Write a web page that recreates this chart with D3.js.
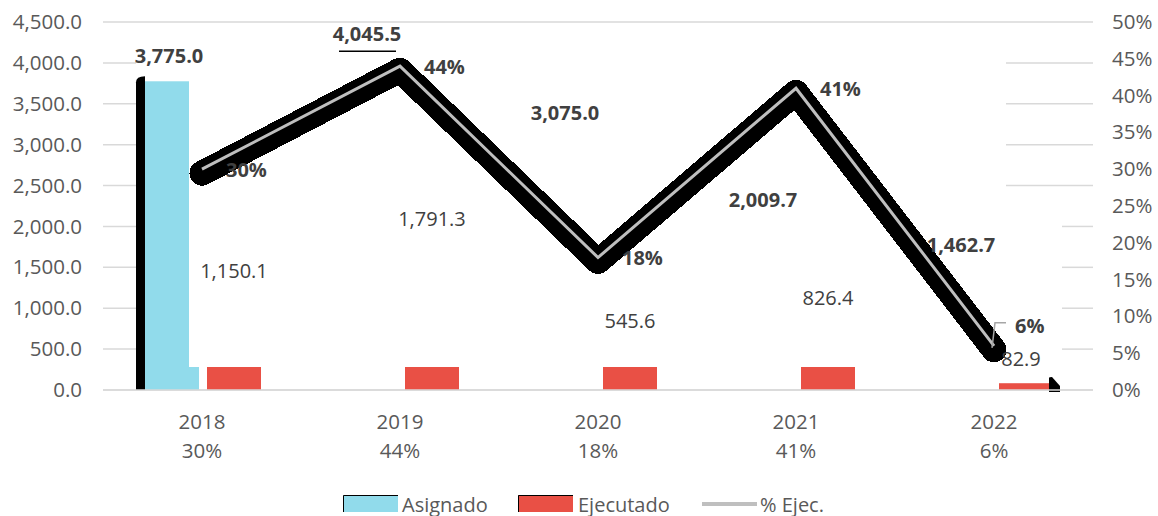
<!DOCTYPE html>
<html>
<head>
<meta charset="utf-8">
<script src="https://cdn.jsdelivr.net/npm/d3@7"></script>
<style>
  body { margin: 0; background: #fff; }
  text { font-family: "Open Sans", sans-serif; }
</style>
</head>
<body>
<div id="chart"></div>
<script>
const years = ["2018", "2019", "2020", "2021", "2022"];
const asignado = [3775.0, 4045.5, 3075.0, 2009.7, 1462.7];
const ejecutado = [1150.1, 1791.3, 545.6, 826.4, 82.9];
const pctEjec = [0.30, 0.44, 0.18, 0.41, 0.06];
const leftTicks = [0, 500, 1000, 1500, 2000, 2500, 3000, 3500, 4000, 4500];
const rightTicks = [0, 0.05, 0.10, 0.15, 0.20, 0.25, 0.30, 0.35, 0.40, 0.45, 0.50];
const seriesNames = ["Asignado", "Ejecutado", "% Ejec."];

let width = 1158,
  height = 516;

let svg = d3.select("#chart")
  .append("svg")
  .attr("width", width)
  .attr("height", height);

let x = d3.scaleBand()
  .domain(years)
  .range([103, 1093]);

let xSub = d3.scaleBand()
  .domain(["Asignado", "Ejecutado"])
  .range([-57, 59])
  .paddingInner(0.129);

let yL = d3.scaleLinear().domain([0, 4500]).range([390, 22]);
let yR = d3.scaleLinear().domain([0, 0.5]).range([390, 22]);

let cx = d => x(d) + x.bandwidth() / 2;

const grid = "#d9d9d9", axisText = "#595959", labelText = "#404040";
const blue = "#91dbeb", red = "#e95045";

// gridlines (the middle of the plot is blanked out in the original)
let gl = svg.append("g");
leftTicks.forEach(t => {
  let y = yL(t);
  if (t === 0 || t === 4500) {
    gl.append("line").attr("x1", 103).attr("x2", 1093).attr("y1", y).attr("y2", y)
      .attr("stroke", grid).attr("stroke-width", 1.5);
  } else {
    gl.append("line").attr("x1", 103).attr("x2", 136).attr("y1", y).attr("y2", y)
      .attr("stroke", grid).attr("stroke-width", 1.5);
    gl.append("line").attr("x1", y < 200 ? 1006 : 1062).attr("x2", 1093).attr("y1", y).attr("y2", y)
      .attr("stroke", grid).attr("stroke-width", 1.5);
  }
});

// axes
let axL = svg.append("g")
  .attr("transform", "translate(103,0)")
  .call(d3.axisLeft(yL).tickValues(leftTicks).tickFormat(d3.format(",.1f")).tickSize(0).tickPadding(21));
let axR = svg.append("g")
  .attr("transform", "translate(1093,0)")
  .call(d3.axisRight(yR).tickValues(rightTicks).tickFormat(d3.format(".0%")).tickSize(0).tickPadding(19));
[axL, axR].forEach(a => {
  a.select(".domain").remove();
  a.selectAll("text")
    .attr("fill", axisText)
    .style("font-size", "20.5px")
    .style("font-family", "'Open Sans', sans-serif");
});

let xl = svg.append("g");
years.forEach((yr, i) => {
  xl.append("text").attr("x", cx(yr)).attr("y", 421)
    .attr("text-anchor", "middle").attr("dominant-baseline", "central")
    .attr("fill", axisText).style("font-size", "20.5px").text(yr);
  xl.append("text").attr("x", cx(yr)).attr("y", 450)
    .attr("text-anchor", "middle").attr("dominant-baseline", "central")
    .attr("fill", axisText).style("font-size", "20.5px").text(d3.format(".0%")(pctEjec[i]));
});

// bars: only a strip near the base is rendered, as in the original
svg.append("clipPath").attr("id", "baseClip")
  .append("rect")
  .attr("x", 0).attr("width", width)
  .attr("y", yL(281)).attr("height", yL(0) - yL(281));

let bars = svg.append("g");

// black artifact left of first Asignado bar
let bx0 = cx(years[0]) + xSub("Asignado");
bars.append("path")
  .attr("d", `M${bx0 - 9},${yL(0)} V${yL(asignado[0]) + 1} Q${bx0 - 9},${yL(asignado[0]) - 5} ${bx0},${yL(asignado[0]) - 5} V${yL(0)} Z`)
  .attr("fill", "#000");

// first Asignado bar drawn in full (narrower), the rest hidden
bars.append("rect")
  .attr("x", bx0)
  .attr("y", yL(asignado[0]))
  .attr("width", xSub.bandwidth() - 10)
  .attr("height", yL(0) - yL(asignado[0]))
  .attr("fill", blue);

bars.append("g").attr("clip-path", "url(#baseClip)")
  .selectAll("rect")
  .data(asignado.slice(0, 1))
  .join("rect")
  .attr("x", (d, i) => cx(years[i]) + xSub("Asignado"))
  .attr("y", d => yL(d))
  .attr("width", xSub.bandwidth())
  .attr("height", d => yL(0) - yL(d))
  .attr("fill", blue);

bars.append("g").attr("clip-path", "url(#baseClip)")
  .selectAll("rect")
  .data(ejecutado)
  .join("rect")
  .attr("x", (d, i) => cx(years[i]) + xSub("Ejecutado"))
  .attr("y", d => yL(d))
  .attr("width", xSub.bandwidth())
  .attr("height", d => yL(0) - yL(d))
  .attr("fill", red);

// black artifact right of last Ejecutado bar
let bxe = cx(years[4]) + xSub("Ejecutado") + xSub.bandwidth() - 4;
bars.append("path")
  .attr("d", `M${bxe},${yL(0) + 2} V${yL(150)} Q${bxe},${yL(160)} ${bxe + 3},${yL(160)} L${bxe + 11},${yL(0) - 4} V${yL(0) + 2} Z`)
  .attr("fill", "#000");

// baseline over bars
svg.append("line").attr("x1", 103).attr("x2", 1093).attr("y1", yL(0)).attr("y2", yL(0))
  .attr("stroke", grid).attr("stroke-width", 1.5);

// % Ejec. line: thick black shadow slightly below, thin grey line on top
let linePts = years.map((yr, i) => [cx(yr), yR(pctEjec[i])]);
let line = d3.line();
svg.append("path")
  .attr("d", line(linePts))
  .attr("transform", "translate(0,4)")
  .attr("fill", "none")
  .attr("stroke", "#000")
  .attr("stroke-width", 25)
  .attr("stroke-linejoin", "round")
  .attr("stroke-linecap", "round")
  .attr("shape-rendering", "crispEdges");
svg.append("path")
  .attr("d", line(linePts))
  .attr("fill", "none")
  .attr("stroke", "#bfbfbf")
  .attr("stroke-width", 3);

// data labels
let lab = svg.append("g");
asignado.forEach((v, i) => {
  let lx = cx(years[i]) + xSub("Asignado") + xSub.bandwidth() / 2 - 3;
  let ly = yL(v) - 26;
  lab.append("text").attr("x", lx).attr("y", ly)
    .attr("text-anchor", "middle").attr("dominant-baseline", "central")
    .attr("fill", labelText).style("font-size", "20px").style("font-weight", "bold")
    .text(d3.format(",.1f")(v));
  if (i === 1) {
    lab.append("line").attr("x1", lx - 28).attr("x2", lx + 29)
      .attr("y1", ly + 18).attr("y2", ly + 18)
      .attr("stroke", "#000").attr("stroke-width", 1.5);
  }
});
ejecutado.forEach((v, i) => {
  let lx = cx(years[i]) + xSub("Ejecutado") + xSub.bandwidth() / 2 - (i === 4 ? 5 : 0);
  lab.append("text").attr("x", lx).attr("y", yL(v) - 25)
    .attr("text-anchor", "middle").attr("dominant-baseline", "central")
    .attr("fill", labelText).style("font-size", "20px")
    .text(d3.format(",.1f")(v));
});
pctEjec.forEach((p, i) => {
  let px = cx(years[i]), py = yR(p);
  let last = i === pctEjec.length - 1;
  if (last) {
    lab.append("polyline")
      .attr("points", `${px - 2},${py + 2} ${px + 1},${py - 23} ${px + 12},${py - 23}`)
      .attr("fill", "none").attr("stroke", "#a6a6a6").attr("stroke-width", 1.5);
  }
  lab.append("text")
    .attr("x", last ? px + 21 : px + 24)
    .attr("y", last ? py - 20 : py)
    .attr("dominant-baseline", "central")
    .attr("fill", labelText).style("font-size", "20px").style("font-weight", "bold")
    .text(d3.format(".0%")(p));
});

// legend
let leg = svg.append("g");
let swatch = (x0, color) => {
  leg.append("rect").attr("x", x0).attr("y", 495).attr("width", 55).attr("height", 17).attr("fill", color);
  leg.append("path").attr("d", `M${x0 + 0.5},512 V495.5 H${x0 + 55}`)
    .attr("fill", "none").attr("stroke", "#000").attr("stroke-width", 1);
};
swatch(343, blue);
swatch(518, red);
leg.append("line").attr("x1", 702).attr("x2", 757).attr("y1", 504).attr("y2", 504)
  .attr("stroke", "#bfbfbf").attr("stroke-width", 4);
[[402, seriesNames[0]], [578, seriesNames[1]], [760, seriesNames[2]]].forEach(([lx, t]) => {
  leg.append("text").attr("x", lx).attr("y", 504).attr("dominant-baseline", "central")
    .attr("fill", axisText).style("font-size", "20px").text(t);
});
</script>
</body>
</html>
